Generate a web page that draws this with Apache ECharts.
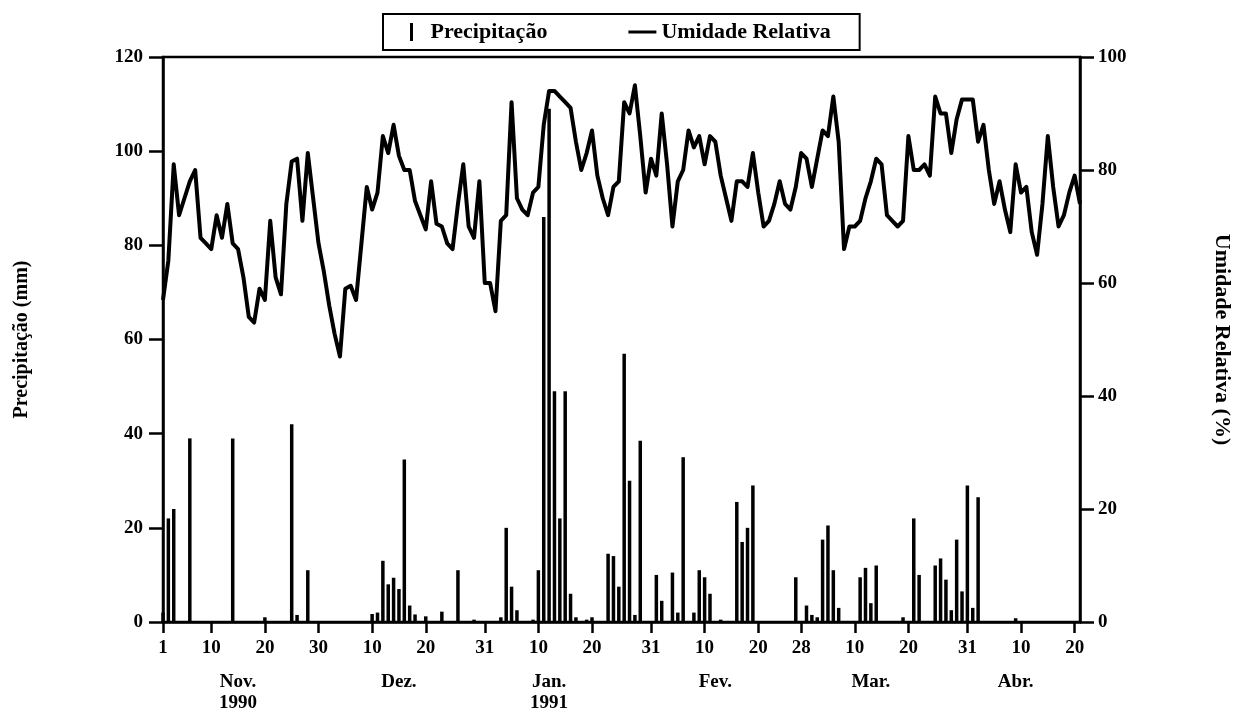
<!DOCTYPE html>
<html>
<head>
<meta charset="utf-8">
<script src="https://cdn.jsdelivr.net/npm/echarts@6/dist/echarts.min.js"></script>
<style>
  html, body { margin: 0; padding: 0; background: #fff; }
  #chart { width: 1244px; height: 718px; }
</style>
</head>
<body>
<div id="chart"></div>
<script>
// Daily mean relative humidity (%), day 1 = 1 Nov 1990
const humidityNov = [57, 64, 81, 72, 75, 78, 80, 68, 67, 66, 72, 68, 74, 67, 66, 61, 54, 53, 59, 57, 71, 61, 58, 74, 81.5, 82, 71, 83, 75, 67];
const humidityDec = [62, 56, 51, 47, 59, 59.5, 57, 67, 77, 73, 76, 86, 83, 88, 82.5, 80, 80, 74.5, 72, 69.5, 78, 70.5, 70, 67, 66, 74, 81, 70, 68, 78, 60];
const humidityJan = [60, 55, 71, 72, 92, 75, 73, 72, 76, 77, 88, 94, 94, 93, 92, 91, 85, 80, 83, 87, 79, 75, 72, 77, 78, 92, 90, 95, 86, 76, 82];
const humidityFeb = [79, 90, 81, 70, 78, 80, 87, 84, 86, 81, 86, 85, 79, 75, 71, 78, 78, 77, 83, 76, 70, 71, 74, 78, 74, 73, 77, 83];
const humidityMar = [82, 77, 82, 87, 86, 93, 85, 66, 70, 70, 71, 75, 78, 82, 81, 72, 71, 70, 71, 86, 80, 80, 81, 79, 93, 90, 90, 83, 89, 92.5, 92.5];
const humidityApr = [92.5, 85, 88, 80, 74, 78, 73, 69, 81, 76, 77, 69, 65, 74, 86, 77, 70, 72, 76, 79, 74];

// Daily precipitation (mm): day number and amount, rainy days only
const precipDays = [1, 2, 3, 6, 14, 20, 25, 26, 28,
  40, 41, 42, 43, 44, 45, 46, 47, 48, 50, 53, 56, 59,
  64, 65, 66, 67, 70, 71, 72, 73, 74, 75, 76, 77, 78, 80, 81, 84, 85, 86, 87, 88, 89, 90,
  93, 94, 96, 97, 98, 100, 101, 102, 103, 105, 108, 109, 110, 111,
  119, 121, 122, 123, 124, 125, 126, 127, 131, 132, 133, 134, 139, 141, 142,
  145, 146, 147, 148, 149, 150, 151, 152, 153, 160];
const precipValues = [2, 22, 24, 39, 39, 1, 42, 1.5, 11,
  1.7, 2, 13, 8, 9.4, 7, 34.5, 3.5, 1.6, 1.2, 2.2, 11, 0.5,
  1, 20, 7.5, 2.5, 0.5, 11, 86, 109, 49, 22, 49, 6, 1, 0.5, 1, 14.5, 14, 7.5, 57, 30, 1.5, 38.5,
  10, 4.5, 10.5, 2, 35, 2, 11, 9.5, 6, 0.5, 25.5, 17, 20, 29,
  9.5, 3.5, 1.5, 1, 17.5, 20.5, 11, 3, 9.5, 11.5, 4, 12, 1, 22, 10,
  12, 13.5, 9, 2.5, 17.5, 6.5, 29, 3, 26.5, 0.8];

// Day-of-month ticks and month captions along the time axis
const tickDays = [1, 10, 20, 30, 40, 50, 61, 71, 81, 92, 102, 112, 120, 130, 140, 151, 161, 171];
const tickLabels = ['1', '10', '20', '30', '10', '20', '31', '10', '20', '31', '10', '20', '28', '10', '20', '31', '10', '20'];
const monthDays = [15, 45, 73, 104, 133, 160];
const monthLabels = ['Nov.\n1990', 'Dez.', 'Jan.\n1991', 'Fev.', 'Mar.', 'Abr.'];

const humidity = [].concat(humidityNov, humidityDec, humidityJan, humidityFeb, humidityMar, humidityApr);

const FONT = "'Liberation Serif', 'Times New Roman', serif";
const INK = '#000';
const textBold = { fontFamily: FONT, fontWeight: 'bold', fontSize: 19, color: INK };

const chart = echarts.init(document.getElementById('chart'), null, { renderer: 'canvas' });

chart.setOption({
  animation: false,
  backgroundColor: '#fff',
  grid: {
    left: 163, right: 164, top: 57, bottom: 96,
    show: true, borderColor: INK, borderWidth: 2.5, backgroundColor: 'transparent'
  },
  legend: {
    left: 383, top: 14,
    selectedMode: false,
    data: [
      { name: 'Precipitação', icon: 'path://M0,0H3V18H0Z' },
      { name: 'Umidade Relativa', icon: 'path://M0,0H28V3H0Z' }
    ],
    itemWidth: 28, itemHeight: 18, itemGap: 81,
    padding: [7, 29, 7, 27],
    borderColor: INK, borderWidth: 2,
    textStyle: { fontFamily: FONT, fontWeight: 'bold', fontSize: 22, color: INK }
  },
  xAxis: [
    {
      type: 'value', min: 1, max: 172, position: 'bottom',
      axisLine: { show: true, onZero: false, lineStyle: { color: INK, width: 2.5 } },
      axisTick: { show: true, inside: false, length: 11, customValues: tickDays, lineStyle: { color: INK, width: 2.5 } },
      axisLabel: {
        customValues: tickDays, margin: 17, ...textBold,
        formatter: v => tickLabels[tickDays.indexOf(v)]
      },
      splitLine: { show: false }
    },
    {
      type: 'value', min: 1, max: 172, position: 'bottom', offset: 44,
      axisLine: { show: false }, axisTick: { show: false },
      axisLabel: {
        customValues: monthDays, margin: 6, lineHeight: 21, ...textBold,
        formatter: v => monthLabels[monthDays.indexOf(v)]
      },
      splitLine: { show: false }
    }
  ],
  yAxis: [
    {
      type: 'value', min: 0, max: 120, interval: 20, position: 'left',
      name: 'Precipitação (mm)', nameLocation: 'middle', nameGap: 131, nameRotate: 90,
      nameTextStyle: { fontFamily: FONT, fontWeight: 'bold', fontSize: 20, color: INK },
      axisLine: { show: true, lineStyle: { color: INK, width: 2.5 } },
      axisTick: { show: true, inside: false, length: 14, lineStyle: { color: INK, width: 2.5 } },
      axisLabel: { margin: 20, ...textBold },
      splitLine: { show: false }
    },
    {
      type: 'value', min: 0, max: 100, interval: 20, position: 'right',
      name: 'Umidade Relativa (%)', nameLocation: 'middle', nameGap: 131, nameRotate: -90,
      nameTextStyle: { fontFamily: FONT, fontWeight: 'bold', fontSize: 22, color: INK },
      axisLine: { show: true, lineStyle: { color: INK, width: 2.5 } },
      axisTick: { show: true, inside: false, length: 14, lineStyle: { color: INK, width: 2.5 } },
      axisLabel: { margin: 18, ...textBold },
      splitLine: { show: false }
    }
  ],
  series: [
    {
      name: 'Precipitação', type: 'bar', xAxisIndex: 0, yAxisIndex: 0,
      barWidth: 3.5, itemStyle: { color: INK },
      data: precipDays.map((d, i) => [d, precipValues[i]])
    },
    {
      name: 'Umidade Relativa', type: 'line', xAxisIndex: 0, yAxisIndex: 1,
      symbol: 'none', showSymbol: false, smooth: false,
      lineStyle: { color: INK, width: 4, join: 'round' },
      itemStyle: { color: INK },
      data: humidity.map((v, i) => [i + 1, v])
    }
  ]
});
</script>
</body>
</html>
